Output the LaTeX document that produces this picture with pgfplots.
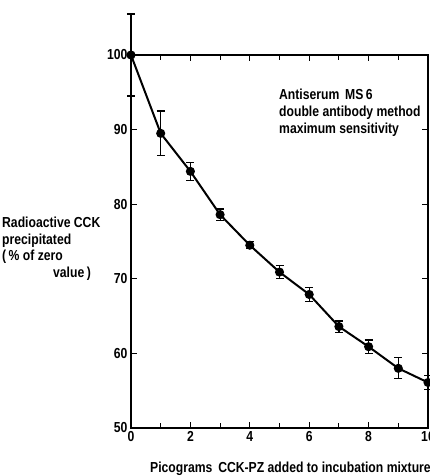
\documentclass[border=0pt]{standalone}
\usepackage{fontspec}
\setmainfont{Liberation Sans}[FakeStretch=0.84]
\usepackage{pgfplots}
\usepackage{pgfplotstable}
\pgfplotsset{compat=1.18}
\newcommand\lbl{\fontsize{14.5}{17}\selectfont\bfseries}
\newcommand\tlbl{\fontsize{14.5}{16}\selectfont\bfseries}

% picograms, % of zero value, error
\pgfplotstableread{
x y err
0 100 5.5
1 89.5 3.0
2 84.4 1.2
3 78.6 0.75
4 74.5 0.45
5 70.9 0.9
6 67.9 0.9
7 63.6 0.75
8 60.9 0.9
9 58.0 1.4
10 56.1 0.9
}\cckdata

\begin{document}
\begin{tikzpicture}
\begin{axis}[
  at={(0pt,0pt)}, anchor=south west,
  scale only axis, width=297pt, height=373pt,
  xmin=0, xmax=10, ymin=50, ymax=100,
  xtick={0,2,...,10}, minor xtick={1,3,...,9},
  ytick={50,60,...,100},
  tick align=inside, xtick pos=both, ytick pos=both,
  major tick length=6pt, minor tick length=5pt,
  every tick/.style={black, line width=1.1pt},
  axis line style={line width=1.3pt},
  tick label style={font=\tlbl},
  /pgf/number format/assume math mode=true,
  clip=false,
]
\addplot[black, line width=2pt, mark=*, mark size=3.5pt,
  error bars/.cd, y dir=both, y explicit,
  error bar style={line width=1.2pt},
  error mark options={rotate=90, mark size=4pt, line width=1.2pt}]
  table[x=x, y=y, y error=err] {\cckdata};
\end{axis}
\node[anchor=base west, inner sep=0, font=\lbl] at (148pt,328pt) {Antiserum\, MS\,6};
\node[anchor=base west, inner sep=0, font=\lbl] at (148pt,311.5pt) {double antibody method};
\node[anchor=base west, inner sep=0, font=\lbl] at (148pt,294.5pt) {maximum sensitivity};
\node[anchor=base west, inner sep=0, font=\lbl] at (-129pt,200pt) {Radioactive CCK};
\node[anchor=base west, inner sep=0, font=\lbl] at (-129pt,183.5pt) {precipitated};
\node[anchor=base west, inner sep=0, font=\lbl] at (-129pt,167pt) {(\,\% of zero};
\node[anchor=base west, inner sep=0, font=\lbl] at (-78pt,150.5pt) {value\,)};
\node[anchor=base west, inner sep=0, font=\lbl] at (19pt,-44pt) {Picograms\, CCK-PZ added to incubation mixture};
\pgfresetboundingbox
\path (-131pt,-48pt) rectangle (299pt,428pt);
\end{tikzpicture}
\end{document}
